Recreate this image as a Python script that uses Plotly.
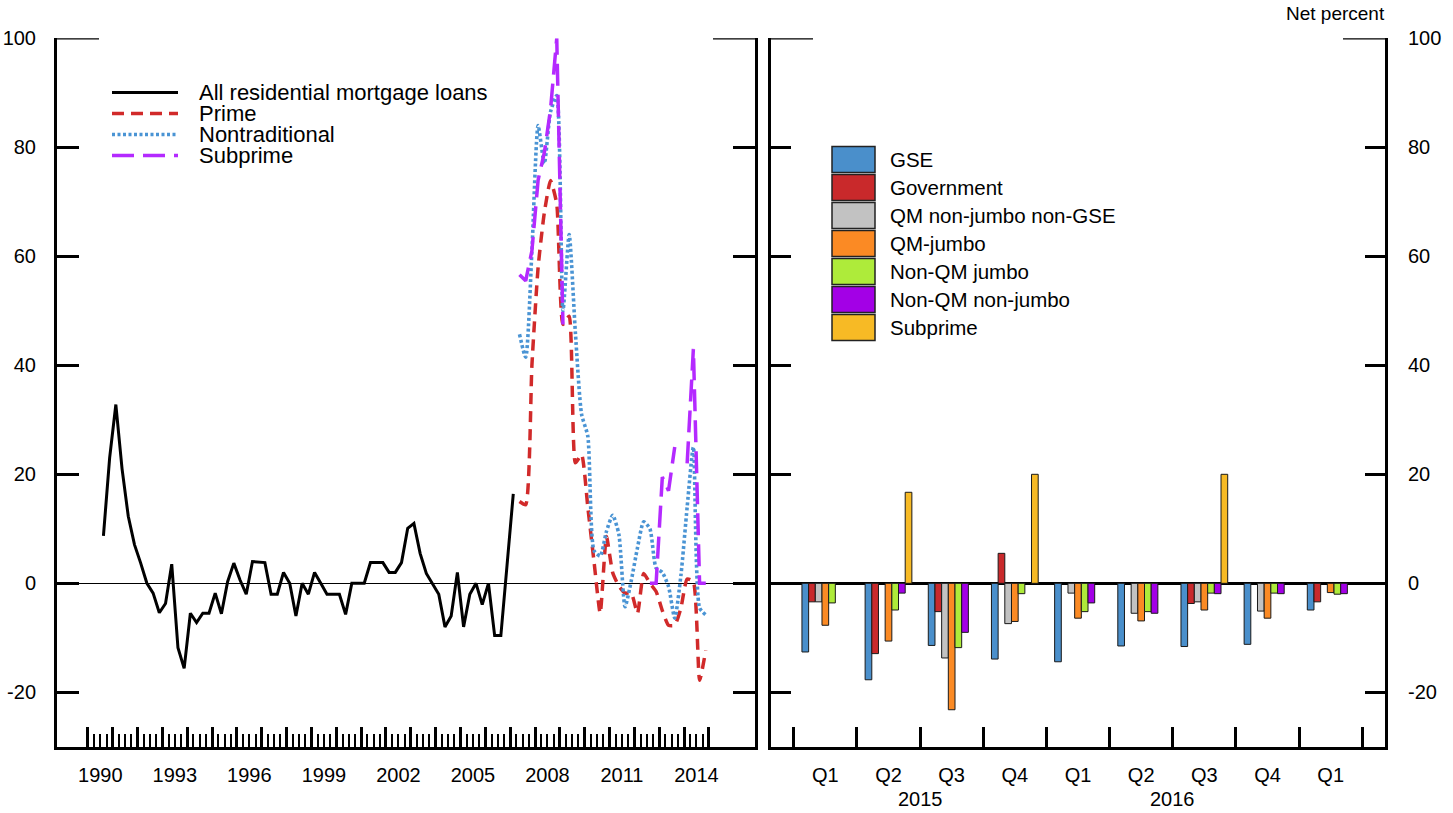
import pandas as pd
import plotly.graph_objects as go

# ---------------- Data: left panel (quarterly, net percent) ----------------
all_loans_start = "1990Q3"
all_loans = [8.7, 23.0, 32.8, 21.0, 12.3, 7.1, 3.7, 0.0, -1.8, -5.4, -3.7, 3.5, -11.8, -15.6,
             -5.5, -7.2, -5.5, -5.5, -1.8, -5.6, 0.3, 3.7, 0.6, -2.0, 4.0, 3.9, 3.8, -2.0,
             -2.0, 2.0, 0.0, -6.0, 0.0, -2.0, 2.0, 0.0, -2.0, -2.0, -2.0, -5.7, 0.0, 0.0,
             0.0, 3.8, 3.8, 3.8, 2.0, 2.0, 3.8, 10.1, 11.0, 5.5, 1.8, 0.0, -2.0, -8.0,
             -6.0, 2.0, -8.0, -2.0, 0.0, -3.9, 0.0, -9.6, -9.6, 3.4, 16.4]

segments_start = "2007Q2"
prime = [15.0, 14.4, 40.0, 58.0, 68.0, 73.9, 69.6, 47.5, 49.0, 22.1, 23.6, 14.0, 4.0,
         -5.5, 8.6, 2.0, -0.5, -1.8, -1.8, -5.5, 1.8, 0.0, -1.5, -5.0, -7.7, -7.7, -4.5,
         0.8, 0.3, -17.8, -12.3]
nontraditional = [45.7, 41.5, 61.0, 84.0, 77.0, 86.5, 89.5, 50.0, 64.0, 46.0, 31.0, 27.0,
                  6.0, 5.0, 9.5, 12.5, 9.0, -4.3, 0.5, 6.5, 11.3, 10.0, 2.8, 2.0, -0.6,
                  -6.4, 1.5, 14.0, 25.0, -4.5, -5.8]
subprime_line = [56.6, 55.5, 61.0, 74.0, 79.0, 87.0, 100.0, 47.5,
                 None, None, None, None, None, None, None, None, None, None, None, None, None,
                 0.0, 0.0, 19.5, 17.0, 25.0, None, 22.0, 43.0, 0.0, 0.0]

year_tick_years = list(range(1990, 2016))
year_label_years = list(range(1990, 2015, 3))

# ---------------- Data: right panel (net percent by loan category) ----------------
bar_quarters = ["Q1", "Q2", "Q3", "Q4", "Q1", "Q2", "Q3", "Q4", "Q1"]
bar_year_labels = ["2015", "2016"]
bar_year_positions = [1.5, 5.5]

gse = [-12.6, -17.7, -11.4, -13.9, -14.4, -11.5, -11.6, -11.2, -4.9]
government = [-3.4, -12.9, -5.2, 5.5, None, None, -3.7, None, -3.4]
qm_nonjumbo_nongse = [-3.4, None, -13.7, -7.4, -1.8, -5.5, -3.4, -5.1, None]
qm_jumbo = [-7.7, -10.6, -23.2, -7.0, -6.4, -6.9, -4.9, -6.4, -1.7]
nonqm_jumbo = [-3.6, -4.9, -11.8, -1.9, -5.2, -5.2, -1.8, -1.8, -2.0]
nonqm_nonjumbo = [None, -1.8, -9.0, None, -3.6, -5.5, -1.9, -1.9, -1.9]
subprime_bar = [None, 16.7, None, 20.0, None, None, 20.0, None, None]

y_ticks = [-20, 0, 20, 40, 60, 80, 100]
y_tick_text = ["-20", "0", "20", "40", "60", "80", "100"]

# ---------------- Helpers ----------------
W, H = 1453, 813
FONT = "Liberation Sans, Arial, sans-serif"


def qpos(start, n):
    p = pd.period_range(start=start, periods=n, freq="Q")
    return list(p.year + (p.quarter - 1) / 4 + 0.125)


def px(x):
    return x / W


def py(y):
    return 1 - y / H


L_X0, L_X1 = 57, 755
R_X0, R_X1 = 771, 1385
Y_TOP, Y_BOT = 38.3, 746.8

fig = go.Figure()

x_all = qpos(all_loans_start, len(all_loans))
x_seg = qpos(segments_start, len(prime))

fig.add_trace(go.Scatter(x=x_all, y=all_loans, mode="lines", name="All residential mortgage loans",
                         line=dict(color="black", width=3), xaxis="x", yaxis="y"))
fig.add_trace(go.Scatter(x=x_seg, y=prime, mode="lines", name="Prime",
                         line=dict(color="#D12A2A", width=3.5, dash="11px,7px", shape="spline",
                                   smoothing=0.5), xaxis="x", yaxis="y"))
fig.add_trace(go.Scatter(x=x_seg, y=nontraditional, mode="lines", name="Nontraditional",
                         line=dict(color="#4A94D4", width=3.6, dash="3px,2.5px", shape="spline",
                                   smoothing=0.6), xaxis="x", yaxis="y"))
fig.add_trace(go.Scatter(x=x_seg, y=subprime_line, mode="lines", name="Subprime",
                         line=dict(color="#B42AFF", width=3.5, dash="22px,9px"),
                         connectgaps=False, xaxis="x", yaxis="y"))
# helper (invisible) trace so the label axis of the left panel is rendered
fig.add_trace(go.Scatter(x=[y + 0.5 for y in year_label_years], y=[None] * len(year_label_years),
                         mode="lines", xaxis="x3", yaxis="y", hoverinfo="skip", showlegend=False))

bar_specs = [
    ("GSE", gse, "#4A8FCB"),
    ("Government", government, "#C9292B"),
    ("QM non-jumbo non-GSE", qm_nonjumbo_nongse, "#C2C2C2"),
    ("QM-jumbo", qm_jumbo, "#FB8A24"),
    ("Non-QM jumbo", nonqm_jumbo, "#AEEB3A"),
    ("Non-QM non-jumbo", nonqm_nonjumbo, "#A300E6"),
    ("Subprime", subprime_bar, "#F7BA25"),
]
idx = list(range(len(bar_quarters)))
for name, vals, col in bar_specs:
    fig.add_trace(go.Bar(x=idx, y=vals, name=name,
                         marker=dict(color=col, line=dict(color="#1a1a1a", width=1)),
                         xaxis="x2", yaxis="y2"))

x_range_left = [1988.756, 2016.856]
x_range_right = [-0.86, 8.86]
dom_left = [px(L_X0), px(L_X1)]
dom_right = [px(R_X0), px(R_X1)]
dom_y = [py(Y_BOT), py(Y_TOP)]

minor_quarters = [y + q / 4 for y in range(1990, 2015) for q in (1, 2, 3)]

axis_common = dict(showgrid=False, linecolor="black", linewidth=3, tickcolor="black",
                   tickfont=dict(family=FONT, size=20, color="black"))

fig.update_layout(
    width=W, height=H, margin=dict(l=0, r=0, t=0, b=0, pad=0),
    paper_bgcolor="white", plot_bgcolor="white",
    font=dict(family=FONT, size=20, color="black"),
    showlegend=False, barmode="group", bargap=0.26, bargroupgap=0,
    xaxis=dict(domain=dom_left, range=x_range_left, anchor="y", showline=True, zeroline=False,
               tickvals=year_tick_years, ticks="inside", ticklen=20, tickwidth=2.5,
               showticklabels=False, automargin=False,
               minor=dict(tickvals=minor_quarters, ticks="inside", ticklen=13, tickwidth=1.5,
                          tickcolor="black"),
               **axis_common),
    xaxis3=dict(domain=dom_left, range=x_range_left, overlaying="x", anchor="y", side="bottom",
                showline=False, zeroline=False, ticks="", automargin=False,
                tickvals=[y + 0.5 for y in year_label_years],
                ticktext=[str(y) for y in year_label_years], ticklabelstandoff=14,
                **axis_common),
    yaxis=dict(domain=dom_y, range=[-30, 100], anchor="x", side="left", showline=True,
               mirror="ticks", ticks="inside", ticklen=22, tickwidth=2.5, tickvals=y_ticks,
               ticktext=y_tick_text,
               zeroline=True, zerolinecolor="black", zerolinewidth=1.3, ticklabelstandoff=14,
               automargin=False, **axis_common),
    xaxis2=dict(domain=dom_right, range=x_range_right, anchor="y2", showline=True, zeroline=False,
                tickvals=idx, ticktext=bar_quarters, ticks="", ticklabelstandoff=8,
                automargin=False,
                minor=dict(tickvals=[i - 0.5 for i in range(len(bar_quarters) + 1)], ticks="inside",
                           ticklen=20, tickwidth=2.5, tickcolor="black"),
                **axis_common),
    yaxis2=dict(domain=dom_y, range=[-30, 100], anchor="x2", side="right", showline=True,
                mirror="ticks", ticks="inside", ticklen=20, tickwidth=2.5, tickvals=y_ticks,
                ticktext=y_tick_text,
                zeroline=True, zerolinecolor="black", zerolinewidth=2.5, ticklabelstandoff=16,
                automargin=False, **axis_common),
)

shapes = []
# longer top ticks at 100
for xd, w in (("x domain", L_X1 - L_X0), ("x2 domain", R_X1 - R_X0)):
    yref = "y" if xd == "x domain" else "y2"
    shapes.append(dict(type="line", xref=xd, yref=yref, x0=0, x1=42 / w, y0=100, y1=100,
                       line=dict(color="black", width=2.5)))
    shapes.append(dict(type="line", xref=xd, yref=yref, x0=1 - 42 / w, x1=1, y0=100, y1=100,
                       line=dict(color="black", width=2.5)))

annotations = []
# left legend
left_legend = [
    ("All residential mortgage loans", "black", "solid", 3),
    ("Prime", "#D12A2A", "12px,7px", 3.5),
    ("Nontraditional", "#4A94D4", "3px,2.5px", 3.6),
    ("Subprime", "#B42AFF", "22px,9px", 3.5),
]
for i, (lab, col, dash, wd) in enumerate(left_legend):
    yc = 92.5 + 21 * i
    shapes.append(dict(type="line", xref="paper", yref="paper", x0=px(112), x1=px(178),
                       y0=py(yc), y1=py(yc), line=dict(color=col, width=wd, dash=dash)))
    annotations.append(dict(text=lab, xref="paper", yref="paper", x=px(197), y=py(yc),
                            xanchor="left", yanchor="middle", showarrow=False,
                            font=dict(family=FONT, size=22, color="black")))

# right legend
for i, (name, vals, col) in enumerate(bar_specs):
    yc = 159.5 + 28 * i
    shapes.append(dict(type="rect", xref="paper", yref="paper", x0=px(832), x1=px(875),
                       y0=py(yc - 13), y1=py(yc + 13), fillcolor=col,
                       line=dict(color="#222222", width=1.5)))
    annotations.append(dict(text=name, xref="paper", yref="paper", x=px(888), y=py(yc),
                            xanchor="left", yanchor="middle", showarrow=False,
                            font=dict(family=FONT, size=20.5, color="black")))

# year labels for right panel
for lab, pos in zip(bar_year_labels, bar_year_positions):
    annotations.append(dict(text=lab, xref="x2", yref="paper", x=pos, y=py(799),
                            xanchor="center", yanchor="middle", showarrow=False,
                            font=dict(family=FONT, size=20, color="black")))

annotations.append(dict(text="Net percent", xref="paper", yref="paper", x=px(1387), y=py(14),
                        xanchor="right", yanchor="middle", showarrow=False,
                        font=dict(family=FONT, size=19, color="black")))

fig.update_layout(shapes=shapes, annotations=annotations)

fig.write_html("out.html", config={"displayModeBar": False},
               post_script="document.body.style.margin='0px';"
                           "document.body.style.overflow='hidden';")
